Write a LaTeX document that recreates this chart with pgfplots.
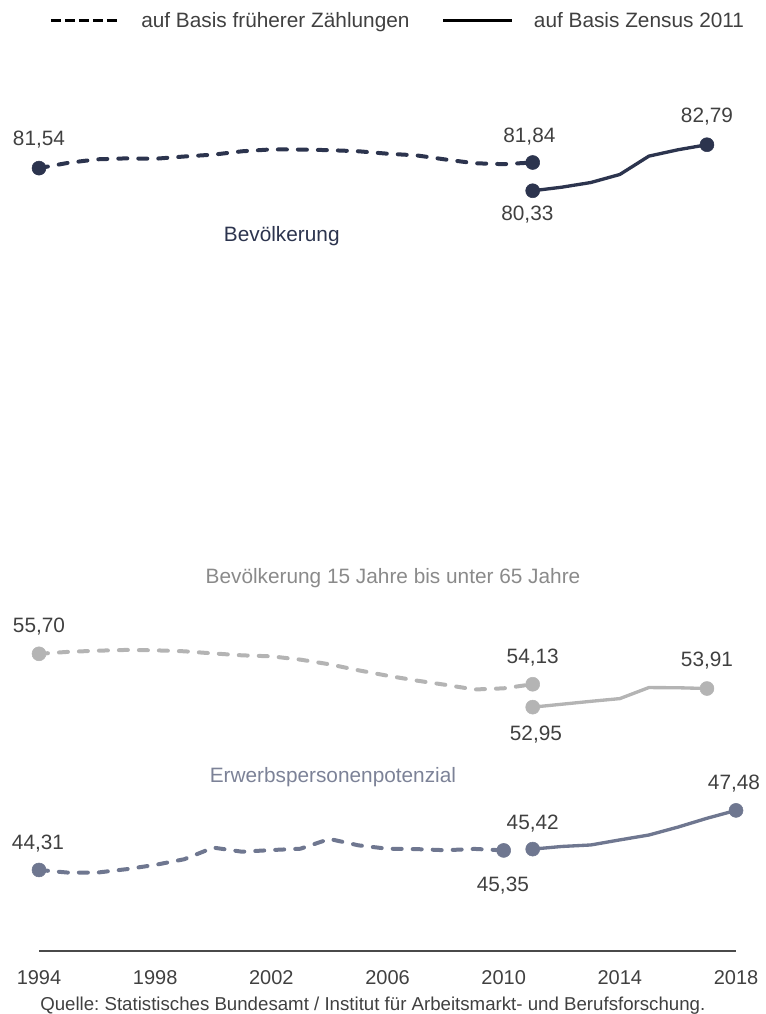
\documentclass[border=0pt]{standalone}
\usepackage{fontspec}
\setmainfont{Liberation Sans}
\usepackage{pgfplots}
\pgfplotsset{compat=1.18}
\frenchspacing

\definecolor{navy}{HTML}{2C344E}
\definecolor{lgray}{HTML}{B4B4B4}
\definecolor{slate}{HTML}{6F7790}
\definecolor{txt}{HTML}{404040}
\definecolor{midlab}{HTML}{8A8A8A}
\definecolor{erwlab}{HTML}{7C8297}
\definecolor{axisgray}{HTML}{4A4A4A}

\newcommand{\lab}{\fontsize{15.6}{18}\selectfont}

\pgfplotsset{
  panel/.style={scale only axis, width=522.75pt, xmin=1994, xmax=2018,
    clip=false, anchor=south west},
  old/.style={line width=3pt, dash pattern=on 6.75pt off 8.25pt, line cap=round, forget plot},
  new/.style={line width=2.5pt, line cap=round, line join=round, forget plot},
  dot/.style={only marks, mark=*, mark size=5.25pt, forget plot},
}
\tikzset{lbl/.style={anchor=base, text=txt, font=\lab, inner sep=0pt}}

\begin{document}
\frenchspacing
\begin{tikzpicture}
\useasboundingbox (0pt,0pt) rectangle (573.75pt,760.5pt);

% Bevoelkerung
\begin{axis}[panel, at={(29.25pt,612.8pt)}, height=42.1pt, ymin=80, ymax=83, hide axis,
  legend columns=2,
  legend image code/.code={\draw[#1] (0pt,0pt) -- (51.75pt,0pt);},
  legend style={at={(0.01435,3.141)}, anchor=west, draw=none, fill=none,
    inner sep=0pt, column sep=0pt, font=\lab, text=txt,
    nodes={inner sep=0pt}, cells={anchor=west}}]
  \addlegendimage{black, line width=2.25pt, dash pattern=on 7.5pt off 3pt}
  \addlegendentry{\hspace*{15pt}auf Basis früherer Zählungen\hspace*{24pt}}
  \addlegendimage{black, line width=2.6pt}
  \addlegendentry{\hspace*{15pt}auf Basis Zensus 2011}
  \addplot[navy, old] coordinates {(1994,81.54)(1995,81.82)(1996,82.01)(1997,82.06)(1998,82.04)(1999,82.16)(2000,82.26)(2001,82.44)(2002,82.54)(2003,82.53)(2004,82.50)(2005,82.44)(2006,82.31)(2007,82.22)(2008,82.00)(2009,81.80)(2010,81.75)(2011,81.84)};
  \addplot[navy, new] coordinates {(2011,80.33)(2012,80.52)(2013,80.77)(2014,81.20)(2015,82.18)(2016,82.52)(2017,82.79)};
  \addplot[navy, dot] coordinates {(1994,81.54)(2011,81.84)(2011,80.33)(2017,82.79)};
  \node[lbl, yshift=16.7pt] at (axis cs:1994,81.54) {81,54};
  \node[lbl, yshift=15pt, xshift=-2.5pt] at (axis cs:2011,81.84) {81,84};
  \node[lbl, yshift=-22.5pt, xshift=-4pt] at (axis cs:2011,80.33) {80,33};
  \node[lbl, yshift=16.5pt] at (axis cs:2017,82.79) {82,79};
  \node[lbl, text=navy] at (axis cs:2002.36,77.60) {Bevölkerung};
\end{axis}

% Bevoelkerung 15 bis unter 65 Jahre
\begin{axis}[panel, at={(29.25pt,223.6pt)}, height=50.9pt, ymin=52.5, ymax=56, hide axis]
  \addplot[lgray, old] coordinates {(1994,55.70)(1995,55.80)(1996,55.86)(1997,55.90)(1998,55.88)(1999,55.83)(2000,55.72)(2001,55.62)(2002,55.57)(2003,55.40)(2004,55.16)(2005,54.85)(2006,54.57)(2007,54.32)(2008,54.10)(2009,53.86)(2010,53.92)(2011,54.13)};
  \addplot[lgray, new] coordinates {(2011,52.95)(2012,53.10)(2013,53.25)(2014,53.39)(2015,53.96)(2016,53.95)(2017,53.91)};
  \addplot[lgray, dot] coordinates {(1994,55.70)(2011,54.13)(2011,52.95)(2017,53.91)};
  \node[lbl, yshift=15.75pt] at (axis cs:1994,55.70) {55,70};
  \node[lbl, yshift=15.2pt] at (axis cs:2011,54.13) {54,13};
  \node[lbl, yshift=16.3pt] at (axis cs:2017,53.91) {53,91};
  \node[lbl, yshift=-25pt, xshift=2.4pt] at (axis cs:2011,52.95) {52,95};
  \node[lbl, text=midlab] at (axis cs:2006.19,59.34) {Bevölkerung 15 Jahre bis unter 65 Jahre};
\end{axis}

% Erwerbspersonenpotenzial, with the year axis
\begin{axis}[panel, at={(29.25pt,47.25pt)}, height=112.8pt, ymin=40, ymax=48,
  axis x line*=bottom, axis y line=none,
  x axis line style={line width=1.5pt, color=axisgray, -},
  xtick={1994,1998,...,2018}, ytick=\empty, major tick length=0pt,
  xticklabel style={anchor=base, yshift=-25.3pt, font=\fontsize{15}{18}\selectfont, text=txt},
  /pgf/number format/1000 sep={},
  /pgf/number format/assume math mode=true]
  \addplot[slate, old] coordinates {(1994,44.31)(1995,44.17)(1996,44.17)(1997,44.35)(1998,44.58)(1999,44.88)(2000,45.50)(2001,45.28)(2002,45.37)(2003,45.44)(2004,45.96)(2005,45.62)(2006,45.44)(2007,45.42)(2008,45.36)(2009,45.43)(2010,45.35)};
  \addplot[slate, new] coordinates {(2011,45.42)(2012,45.56)(2013,45.64)(2014,45.91)(2015,46.17)(2016,46.59)(2017,47.06)(2018,47.48)};
  \addplot[slate, dot] coordinates {(1994,44.31)(2010,45.35)(2011,45.42)(2018,47.48)};
  \node[lbl, yshift=15.5pt, xshift=-0.75pt] at (axis cs:1994,44.31) {44,31};
  \node[lbl, yshift=15pt] at (axis cs:2011,45.42) {45,42};
  \node[lbl, yshift=-30.5pt, xshift=-0.6pt] at (axis cs:2010,45.35) {45,35};
  \node[lbl, yshift=15.75pt, xshift=-1.5pt] at (axis cs:2018,47.48) {47,48};
  \node[lbl, text=erwlab] at (axis cs:2004.12,48.95) {Erwerbspersonenpotenzial};
\end{axis}

\node[anchor=base west, inner sep=0pt, text=txt, font=\fontsize{14}{16}\selectfont]
  at (30pt,2.6pt) {Quelle: Statistisches Bundesamt / Institut für Arbeitsmarkt- und Berufsforschung.};
\end{tikzpicture}
\end{document}
